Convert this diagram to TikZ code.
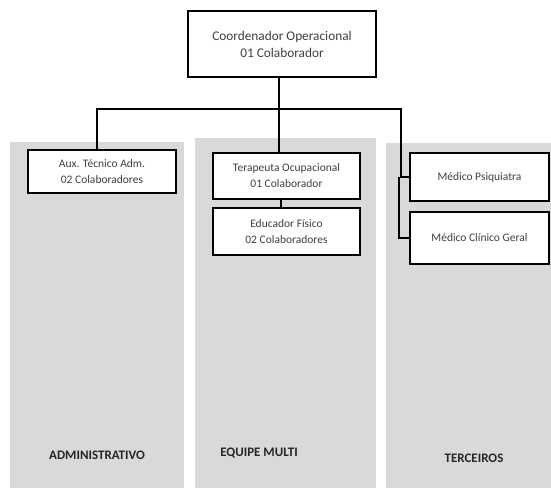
\documentclass[tikz,border=0pt]{standalone}
\usepackage{fontspec}
\setmainfont{Carlito}
\begin{document}
\begin{tikzpicture}[x=1pt,y=-1pt,
  panel/.style={fill=panelgray,draw=none},
  box/.style={draw=black,line width=1.1pt,fill=white,align=center,text=black!75,inner sep=0pt,font=\fontsize{11.5}{16}\selectfont},
  lbl/.style={font=\bfseries\fontsize{13}{15}\selectfont,text=black!85},
  con/.style={draw=black,line width=1.1pt}]
\definecolor{panelgray}{HTML}{D9D9D9}
\useasboundingbox (0,0) rectangle (551,490);
\fill[white] (0,0) rectangle (551,490);
% panels
\fill[panel] (10,142) rectangle (184,488);
\fill[panel] (195,138) rectangle (376,488);
\fill[panel] (386,143) rectangle (551,488);
% boxes
\node[box,minimum width=188pt,minimum height=66pt,font=\fontsize{13.3}{17}\selectfont] (top) at (282,44) {Coordenador Operacional\\01 Colaborador};
\node[box,minimum width=148pt,minimum height=43pt] (aux) at (102,171.5) {Aux. T\'ecnico Adm.\\02 Colaboradores};
\node[box,minimum width=147pt,minimum height=46pt] (ter) at (286.5,176) {Terapeuta Ocupacional\\01 Colaborador};
\node[box,minimum width=147pt,minimum height=47pt] (edu) at (286.5,231.5) {Educador F\'isico\\02 Colaboradores};
\node[box,minimum width=139pt,minimum height=48pt] (psq) at (479.5,177) {M\'edico Psiquiatra};
\node[box,minimum width=139pt,minimum height=52pt] (cli) at (479.5,238) {M\'edico Cl\'inico Geral};
% labels
\node[lbl] (ladm) at (97,455) {ADMINISTRATIVO};
\node[lbl] (lequ) at (259,453) {EQUIPE MULTI};
\node[lbl] (lter) at (474,458) {TERCEIROS};
% connectors
\coordinate (j) at (401,109);
\draw[con] ([xshift=-3pt]top.south) -- ([xshift=-3pt]top.south |- j);
\draw[con] ([xshift=-5pt]aux.north) |- (j) |- (psq.west);
\draw[con] ([xshift=-7.5pt]ter.north) -- ([xshift=-7.5pt]ter.north |- j);
\draw[con] ([xshift=-5.5pt]ter.south) -- ([xshift=-5.5pt]edu.north);
\draw[con] ([xshift=-2pt]j |- psq.west) |- (cli.west);
\end{tikzpicture}
\end{document}
